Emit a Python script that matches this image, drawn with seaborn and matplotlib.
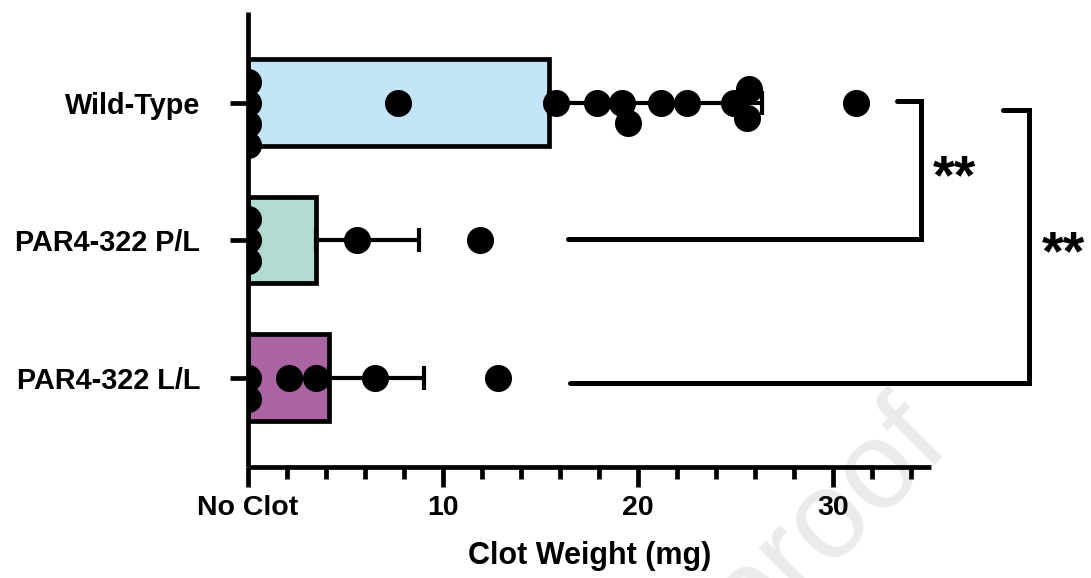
import numpy as np
import pandas as pd
import matplotlib
matplotlib.use("Agg")
import matplotlib.pyplot as plt
import seaborn as sns
from matplotlib.ticker import FixedLocator

# ---- data ----
groups = ["Wild-Type", "PAR4-322 P/L", "PAR4-322 L/L"]
wild_type = [0, 0, 0, 0, 7.7, 15.8, 17.9, 19.2, 19.5, 21.2, 22.5, 24.9, 25.6, 25.7, 31.2]
par4_pl = [0, 0, 0, 5.6, 11.9]
par4_ll = [0, 0, 2.1, 3.5, 6.5, 12.8]
bar_colors = ["#C3E5F7", "#B1DBD3", "#AA64A3"]
x_ticks = [0, 10, 20, 30]
x_tick_labels = ["No Clot", "10", "20", "30"]
x_label = "Clot Weight (mg)"
sig_labels = ["**", "**"]

df = pd.DataFrame({
    "group": [groups[0]] * len(wild_type) + [groups[1]] * len(par4_pl) + [groups[2]] * len(par4_ll),
    "weight": wild_type + par4_pl + par4_ll,
})

sns.set_style("white")
plt.rcParams["font.family"] = ["Liberation Sans", "DejaVu Sans"]
plt.rcParams.update({"text.color": "black", "axes.labelcolor": "black",
                     "xtick.color": "black", "ytick.color": "black",
                     "xtick.direction": "out", "ytick.direction": "out"})

fig = plt.figure(figsize=(10.91, 5.78), dpi=100)
ax = fig.add_axes([248 / 1091, 1 - 467 / 578, (930.5 - 248) / 1091, (467 - 12) / 578])

# watermark (behind everything)
fig.text(952 / 1091, 1 - 448 / 578, "Journal Pre-proof", fontsize=90, color="#ebebeb",
         rotation=45, rotation_mode="anchor", ha="right", va="baseline",
         fontweight="normal", zorder=-1)
ax.patch.set_alpha(0)

sns.barplot(data=df, x="weight", y="group", order=groups, hue="group", hue_order=groups,
            palette=bar_colors, saturation=1, legend=False, errorbar=None, width=0.63,
            edgecolor="black", linewidth=3.4, ax=ax, zorder=2)

stats = df.groupby("group", sort=False)["weight"].agg(["mean", "std"]).reindex(groups)
ax.errorbar(stats["mean"], np.arange(len(groups)),
            xerr=[np.zeros(len(groups)), stats["std"].values],
            fmt="none", ecolor="black", elinewidth=3, capsize=8.6, capthick=3, zorder=3)

n_before = len(ax.collections)
sns.swarmplot(data=df, x="weight", y="group", order=groups, color="black",
              size=14.5, ax=ax, zorder=4, warn_thresh=1.0)
swarm_colls = ax.collections[n_before:]

ax.set_xlim(0, 35)
ax.set_ylim(2.65, -0.66)

# freeze swarm layout computed with smaller markers, then enlarge markers (overlapping like source)
fig.canvas.draw()
for c in swarm_colls:
    if "draw" in c.__dict__:
        del c.__dict__["draw"]
    c.set_sizes([19.5 ** 2])
    c.set_linewidth(0)

ax.xaxis.set_major_locator(FixedLocator(x_ticks))
ax.set_xticklabels(x_tick_labels)
ax.xaxis.set_minor_locator(FixedLocator(np.arange(2, 35, 2)))
ax.tick_params(axis="x", which="both", bottom=True)
ax.tick_params(axis="y", which="both", left=True)
ax.tick_params(axis="x", which="major", length=14.4, width=3.4, labelsize=20.5, pad=6)
ax.tick_params(axis="x", which="minor", length=8.6, width=3.4)
ax.tick_params(axis="y", which="major", length=13, width=3.4, labelsize=20.8, pad=21.5)
for lab in ax.get_xticklabels() + ax.get_yticklabels():
    lab.set_fontweight("bold")
ax.set_ylabel("")
ax.set_xlabel(x_label, fontsize=22, fontweight="bold", labelpad=14)

for side in ["top", "right"]:
    ax.spines[side].set_visible(False)
for side in ["left", "bottom"]:
    ax.spines[side].set_linewidth(3.4)
    ax.spines[side].set_color("black")
    ax.spines[side].set_capstyle("butt")

# significance brackets
bk = dict(color="black", lw=3.6, clip_on=False, solid_capstyle="round", solid_joinstyle="miter", zorder=5)
ax.plot([33.3, 34.5, 34.5, 16.4], [-0.015, -0.015, 0.99, 0.99], **bk)
ax.plot([38.7, 40.05, 40.05, 16.5], [0.05, 0.05, 2.04, 2.04], **bk)
ax.text(36.25, 0.56, sig_labels[0], fontsize=40, fontweight="bold", ha="center", va="center", clip_on=False)
ax.text(41.8, 1.11, sig_labels[1], fontsize=40, fontweight="bold", ha="center", va="center", clip_on=False)

fig.savefig("out.png", dpi=100)
